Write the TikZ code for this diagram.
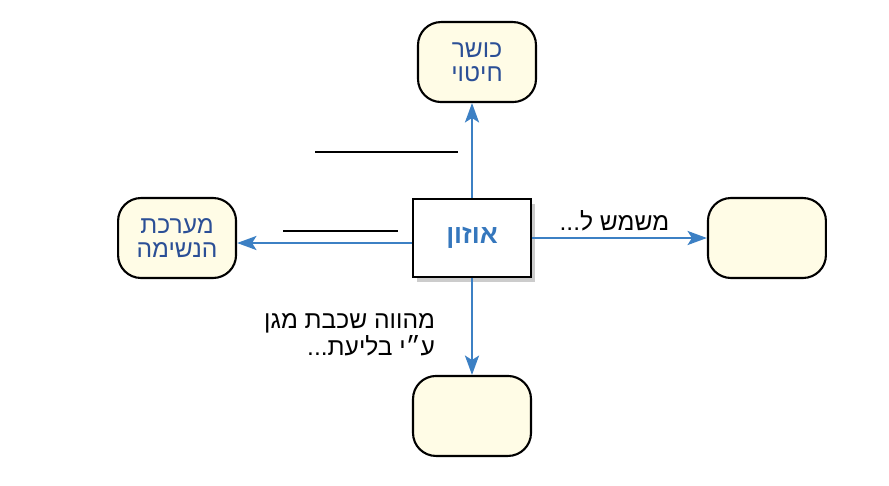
\documentclass[tikz,border=0pt]{standalone}
\usepackage{fontspec}
\usepackage{tikz}
\usetikzlibrary{arrows.meta,shadows}
\newfontfamily\hebfont[Script=Hebrew]{Liberation Sans}
\TeXXeTstate=1
\definecolor{boxfill}{HTML}{FFFCE6}
\definecolor{arrowblue}{HTML}{3C80C4}
\definecolor{textblue}{HTML}{2B4F96}
\definecolor{ozoneblue}{HTML}{3577BD}

\begin{document}
\begin{tikzpicture}[x=0.02cm, y=0.02cm, node distance=3.52cm,
                    main node/.style={draw, line width=1.2pt, rounded corners=0.46cm, fill=boxfill,
                                      minimum width=2.36cm, minimum height=1.6cm, align=center,
                                      text=textblue, font=\hebfont\fontsize{14}{13.8}\selectfont},
                    ozone node/.style={draw, line width=1.5pt, fill=white, minimum width=2.36cm,
                                       minimum height=1.56cm, text=ozoneblue,
                                       font=\hebfont\fontsize{15}{16}\selectfont\bfseries,
                                       drop shadow={shadow xshift=2pt, shadow yshift=-3pt, fill=black, opacity=0.2}},
                    arrow line/.style={draw=arrowblue, line width=1.3pt,
                                       -{Stealth[length=11pt,width=8pt,inset=2.5pt]}},
                    label text/.style={text=black, font=\hebfont\fontsize{14}{15.4}\selectfont}]

  \useasboundingbox (0,0) rectangle (889,485);

  \node[ozone node] (ozone) at (472,247) {\beginR אוזון\endR};
  \node[main node] (chitui) [above of=ozone, xshift=0.1cm] {\beginR כושר\endR\\\beginR חיטוי\endR};
  \node[main node] (blia) [below of=ozone, node distance=3.56cm] {};
  \node[main node] (neshima) [left of=ozone, node distance=5.9cm] {\beginR מערכת\endR\\\beginR הנשימה\endR};
  \node[main node] (shimush) [right of=ozone, node distance=5.9cm] {};

  \path[every edge/.append style={arrow line}]
    (ozone.north) edge (ozone.north |- chitui.south)
    ([yshift=-0.1cm]ozone.west) edge ([yshift=-0.1cm]ozone.west -| neshima.east)
    (ozone) edge node[label text, above, pos=0.47] {\beginR משמש ל...\endR} (shimush)
            edge node[label text, left=0.6cm, pos=0.58, align=right]
                 {\beginR מהווה שכבת מגן\endR\\\beginR ע״י בליעת...\endR} (blia);

  \draw[line width=0.7pt] (315,333) -- (458,333);
  \draw[line width=0.7pt] (283,254) -- (398,254);
\end{tikzpicture}
\end{document}
